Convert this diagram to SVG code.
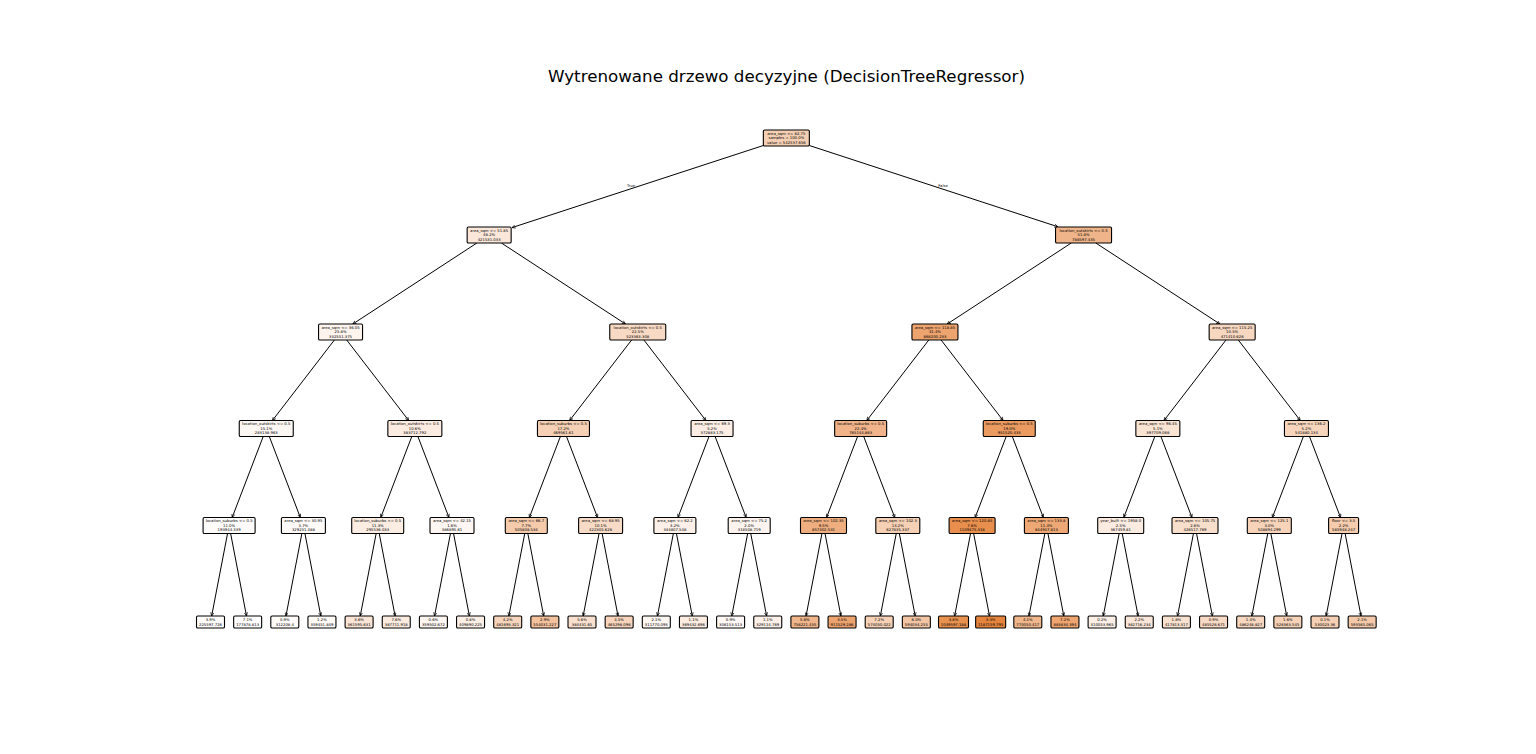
<svg xmlns="http://www.w3.org/2000/svg" width="1536" height="754" viewBox="0 0 1536 754">
<style>
text{font-family:"DejaVu Sans","Liberation Sans",sans-serif;font-size:3.8px;text-anchor:middle;fill:#000}
.title{font-size:16.7px}
.nd rect{stroke:#000;stroke-width:1.1}
#edges line{stroke:#000;stroke-width:1;marker-end:url(#ah)}
</style>
<defs>
<marker id="ah" viewBox="0 0 4 4" refX="3.8" refY="2" markerWidth="4" markerHeight="4" markerUnits="userSpaceOnUse" orient="auto">
<path d="M0.3,0.4 L3.8,2 L0.3,3.6" fill="none" stroke="#000" stroke-width="0.7"/>
</marker>
</defs>
<rect width="1536" height="754" fill="#fff"/>
<text class="title" x="786.5" y="82">Wytrenowane drzewo decyzyjne (DecisionTreeRegressor)</text>

<g id="edges">
<line x1="763.35" y1="145.5" x2="512" y2="227.6"/>
<line x1="809.35" y1="145.5" x2="1058" y2="226.8"/>
<line x1="476.89" y1="243" x2="352.81" y2="324"/>
<line x1="501.41" y1="243" x2="625.49" y2="324"/>
<line x1="1071.29" y1="243" x2="947.21" y2="324"/>
<line x1="1095.81" y1="243" x2="1219.89" y2="324"/>
<line x1="334.39" y1="340" x2="272.41" y2="420.5"/>
<line x1="346.71" y1="340" x2="408.69" y2="420.5"/>
<line x1="631.59" y1="340" x2="569.61" y2="420.5"/>
<line x1="643.91" y1="340" x2="705.89" y2="420.5"/>
<line x1="928.79" y1="340" x2="866.81" y2="420.5"/>
<line x1="941.11" y1="340" x2="1003.09" y2="420.5"/>
<line x1="1225.99" y1="340" x2="1164.01" y2="420.5"/>
<line x1="1238.31" y1="340" x2="1300.29" y2="420.5"/>
<line x1="263.19" y1="436.5" x2="232.16" y2="517.5"/>
<line x1="269.31" y1="436.5" x2="300.34" y2="517.5"/>
<line x1="411.79" y1="436.5" x2="380.76" y2="517.5"/>
<line x1="417.91" y1="436.5" x2="448.94" y2="517.5"/>
<line x1="560.39" y1="436.5" x2="529.36" y2="517.5"/>
<line x1="566.51" y1="436.5" x2="597.54" y2="517.5"/>
<line x1="708.99" y1="436.5" x2="677.96" y2="517.5"/>
<line x1="715.11" y1="436.5" x2="746.14" y2="517.5"/>
<line x1="857.59" y1="436.5" x2="826.56" y2="517.5"/>
<line x1="863.71" y1="436.5" x2="894.74" y2="517.5"/>
<line x1="1006.19" y1="436.5" x2="975.16" y2="517.5"/>
<line x1="1012.31" y1="436.5" x2="1043.34" y2="517.5"/>
<line x1="1154.79" y1="436.5" x2="1123.76" y2="517.5"/>
<line x1="1160.91" y1="436.5" x2="1191.94" y2="517.5"/>
<line x1="1303.39" y1="436.5" x2="1272.36" y2="517.5"/>
<line x1="1309.51" y1="436.5" x2="1340.54" y2="517.5"/>
<line x1="227.56" y1="533.5" x2="211.65" y2="616"/>
<line x1="230.64" y1="533.5" x2="246.5" y2="616"/>
<line x1="301.86" y1="533.5" x2="285.95" y2="616"/>
<line x1="304.94" y1="533.5" x2="320.8" y2="616"/>
<line x1="376.16" y1="533.5" x2="360.25" y2="616"/>
<line x1="379.24" y1="533.5" x2="395.1" y2="616"/>
<line x1="450.46" y1="533.5" x2="434.55" y2="616"/>
<line x1="453.54" y1="533.5" x2="469.4" y2="616"/>
<line x1="524.76" y1="533.5" x2="508.85" y2="616"/>
<line x1="527.84" y1="533.5" x2="543.7" y2="616"/>
<line x1="599.06" y1="533.5" x2="583.15" y2="616"/>
<line x1="602.14" y1="533.5" x2="618" y2="616"/>
<line x1="673.36" y1="533.5" x2="657.45" y2="616"/>
<line x1="676.44" y1="533.5" x2="692.3" y2="616"/>
<line x1="747.66" y1="533.5" x2="731.75" y2="616"/>
<line x1="750.74" y1="533.5" x2="766.6" y2="616"/>
<line x1="821.96" y1="533.5" x2="806.05" y2="616"/>
<line x1="825.04" y1="533.5" x2="840.9" y2="616"/>
<line x1="896.26" y1="533.5" x2="880.35" y2="616"/>
<line x1="899.34" y1="533.5" x2="915.2" y2="616"/>
<line x1="970.56" y1="533.5" x2="954.65" y2="616"/>
<line x1="973.64" y1="533.5" x2="989.5" y2="616"/>
<line x1="1044.86" y1="533.5" x2="1028.95" y2="616"/>
<line x1="1047.94" y1="533.5" x2="1063.8" y2="616"/>
<line x1="1119.16" y1="533.5" x2="1103.25" y2="616"/>
<line x1="1122.24" y1="533.5" x2="1138.1" y2="616"/>
<line x1="1193.46" y1="533.5" x2="1177.55" y2="616"/>
<line x1="1196.54" y1="533.5" x2="1212.4" y2="616"/>
<line x1="1267.76" y1="533.5" x2="1251.85" y2="616"/>
<line x1="1270.84" y1="533.5" x2="1286.7" y2="616"/>
<line x1="1342.06" y1="533.5" x2="1326.15" y2="616"/>
<line x1="1345.14" y1="533.5" x2="1361" y2="616"/>
<text x="631" y="187">True</text>
<text x="943" y="187">False</text>
</g>

<g id="n0" class="nd"><rect x="763.35" y="130" width="46" height="16" rx="1.3" fill="#f5cfb3"/><text x="786.35" y="134.95">area_sqm &lt;= 82.75</text><text x="786.35" y="139.35">samples = 100.0%</text><text x="786.35" y="143.75">value = 542537.656</text></g>

<g id="n1" class="nd"><rect x="467.15" y="227" width="44" height="16" rx="1.3" fill="#fbe7da"/><text x="489.15" y="231.95">area_sqm &lt;= 51.85</text><text x="489.15" y="236.35">48.2%</text><text x="489.15" y="240.75">421531.033</text></g>
<g id="n2" class="nd"><rect x="1055.55" y="227" width="56" height="16" rx="1.3" fill="#f0b48a"/><text x="1083.55" y="231.95">location_outskirts &lt;= 0.5</text><text x="1083.55" y="236.35">51.8%</text><text x="1083.55" y="240.75">788597.435</text></g>

<g id="n3" class="nd"><rect x="318.55" y="324" width="44" height="16" rx="1.3" fill="#fdf4ee"/><text x="340.55" y="328.95">area_sqm &lt;= 36.05</text><text x="340.55" y="333.35">25.8%</text><text x="340.55" y="337.75">332551.375</text></g>
<g id="n4" class="nd"><rect x="609.75" y="324" width="56" height="16" rx="1.3" fill="#f7d9c4"/><text x="637.75" y="328.95">location_outskirts &lt;= 0.5</text><text x="637.75" y="333.35">22.5%</text><text x="637.75" y="337.75">523363.308</text></g>
<g id="n5" class="nd"><rect x="911.95" y="324" width="46" height="16" rx="1.3" fill="#eda46f"/><text x="934.95" y="328.95">area_sqm &lt;= 118.85</text><text x="934.95" y="333.35">41.4%</text><text x="934.95" y="337.75">868200.233</text></g>
<g id="n6" class="nd"><rect x="1209.15" y="324" width="46" height="16" rx="1.3" fill="#f7d7c0"/><text x="1232.15" y="328.95">area_sqm &lt;= 115.25</text><text x="1232.15" y="333.35">10.5%</text><text x="1232.15" y="337.75">471410.626</text></g>

<g id="n7" class="nd"><rect x="239.25" y="420.5" width="54" height="16" rx="1.3" fill="#fdf7f3"/><text x="266.25" y="425.45">location_outskirts &lt;= 0.5</text><text x="266.25" y="429.85">15.1%</text><text x="266.25" y="434.25">283138.963</text></g>
<g id="n8" class="nd"><rect x="387.85" y="420.5" width="54" height="16" rx="1.3" fill="#fcebe0"/><text x="414.85" y="425.45">location_outskirts &lt;= 0.5</text><text x="414.85" y="429.85">10.6%</text><text x="414.85" y="434.25">383712.792</text></g>
<g id="n9" class="nd"><rect x="537.45" y="420.5" width="52" height="16" rx="1.3" fill="#f6d0b4"/><text x="563.45" y="425.45">location_suburbs &lt;= 0.5</text><text x="563.45" y="429.85">17.2%</text><text x="563.45" y="434.25">469561.61</text></g>
<g id="n10" class="nd"><rect x="691.05" y="420.5" width="42" height="16" rx="1.3" fill="#fbede3"/><text x="712.05" y="425.45">area_sqm &lt;= 69.3</text><text x="712.05" y="429.85">5.2%</text><text x="712.05" y="434.25">372883.175</text></g>
<g id="n11" class="nd"><rect x="834.65" y="420.5" width="52" height="16" rx="1.3" fill="#f0b38a"/><text x="860.65" y="425.45">location_suburbs &lt;= 0.5</text><text x="860.65" y="429.85">22.4%</text><text x="860.65" y="434.25">785144.863</text></g>
<g id="n12" class="nd"><rect x="983.25" y="420.5" width="52" height="16" rx="1.3" fill="#eb9b60"/><text x="1009.25" y="425.45">location_suburbs &lt;= 0.5</text><text x="1009.25" y="429.85">19.0%</text><text x="1009.25" y="434.25">951520.433</text></g>
<g id="n13" class="nd"><rect x="1135.85" y="420.5" width="44" height="16" rx="1.3" fill="#f9e3d3"/><text x="1157.85" y="425.45">area_sqm &lt;= 96.45</text><text x="1157.85" y="429.85">5.1%</text><text x="1157.85" y="434.25">397709.068</text></g>
<g id="n14" class="nd"><rect x="1284.45" y="420.5" width="44" height="16" rx="1.3" fill="#f7d5bd"/><text x="1306.45" y="425.45">area_sqm &lt;= 136.2</text><text x="1306.45" y="429.85">5.2%</text><text x="1306.45" y="434.25">541880.134</text></g>

<g id="n15" class="nd"><rect x="203.1" y="517.5" width="52" height="16" rx="1.3" fill="#fefcfb"/><text x="229.1" y="522.45">location_suburbs &lt;= 0.5</text><text x="229.1" y="526.85">11.0%</text><text x="229.1" y="531.25">193944.339</text></g>
<g id="n16" class="nd"><rect x="281.4" y="517.5" width="44" height="16" rx="1.3" fill="#fefaf8"/><text x="303.4" y="522.45">area_sqm &lt;= 30.95</text><text x="303.4" y="526.85">3.7%</text><text x="303.4" y="531.25">329231.488</text></g>
<g id="n17" class="nd"><rect x="351.7" y="517.5" width="52" height="16" rx="1.3" fill="#fcede3"/><text x="377.7" y="522.45">location_suburbs &lt;= 0.5</text><text x="377.7" y="526.85">11.3%</text><text x="377.7" y="531.25">295536.033</text></g>
<g id="n18" class="nd"><rect x="430" y="517.5" width="44" height="16" rx="1.3" fill="#fdf6f2"/><text x="452" y="522.45">area_sqm &lt;= 42.15</text><text x="452" y="526.85">1.6%</text><text x="452" y="531.25">386895.61</text></g>
<g id="n19" class="nd"><rect x="505.3" y="517.5" width="42" height="16" rx="1.3" fill="#f5cbac"/><text x="526.3" y="522.45">area_sqm &lt;= 66.7</text><text x="526.3" y="526.85">7.7%</text><text x="526.3" y="531.25">505808.534</text></g>
<g id="n20" class="nd"><rect x="578.6" y="517.5" width="44" height="16" rx="1.3" fill="#f8dbc6"/><text x="600.6" y="522.45">area_sqm &lt;= 68.95</text><text x="600.6" y="526.85">10.1%</text><text x="600.6" y="531.25">422305.626</text></g>
<g id="n21" class="nd"><rect x="653.9" y="517.5" width="42" height="16" rx="1.3" fill="#fcf0e8"/><text x="674.9" y="522.45">area_sqm &lt;= 62.2</text><text x="674.9" y="526.85">3.2%</text><text x="674.9" y="531.25">344807.548</text></g>
<g id="n22" class="nd"><rect x="728.2" y="517.5" width="42" height="16" rx="1.3" fill="#fdf4ef"/><text x="749.2" y="522.45">area_sqm &lt;= 75.2</text><text x="749.2" y="526.85">2.0%</text><text x="749.2" y="531.25">318508.719</text></g>
<g id="n23" class="nd"><rect x="800.5" y="517.5" width="46" height="16" rx="1.3" fill="#efae7f"/><text x="823.5" y="522.45">area_sqm &lt;= 102.35</text><text x="823.5" y="526.85">9.5%</text><text x="823.5" y="531.25">857402.531</text></g>
<g id="n24" class="nd"><rect x="875.8" y="517.5" width="44" height="16" rx="1.3" fill="#f6d0b4"/><text x="897.8" y="522.45">area_sqm &lt;= 102.3</text><text x="897.8" y="526.85">13.2%</text><text x="897.8" y="531.25">627835.337</text></g>
<g id="n25" class="nd"><rect x="949.1" y="517.5" width="46" height="16" rx="1.3" fill="#e98f4e"/><text x="972.1" y="522.45">area_sqm &lt;= 120.85</text><text x="972.1" y="526.85">7.6%</text><text x="972.1" y="531.25">1109475.318</text></g>
<g id="n26" class="nd"><rect x="1024.4" y="517.5" width="44" height="16" rx="1.3" fill="#eea875"/><text x="1046.4" y="522.45">area_sqm &lt;= 133.8</text><text x="1046.4" y="526.85">11.4%</text><text x="1046.4" y="531.25">844947.813</text></g>
<g id="n27" class="nd"><rect x="1097.7" y="517.5" width="46" height="16" rx="1.3" fill="#fbebe0"/><text x="1120.7" y="522.45">year_built &lt;= 1958.0</text><text x="1120.7" y="526.85">2.5%</text><text x="1120.7" y="531.25">367459.81</text></g>
<g id="n28" class="nd"><rect x="1172" y="517.5" width="46" height="16" rx="1.3" fill="#f8dfcc"/><text x="1195" y="522.45">area_sqm &lt;= 105.75</text><text x="1195" y="526.85">2.6%</text><text x="1195" y="531.25">426517.769</text></g>
<g id="n29" class="nd"><rect x="1247.3" y="517.5" width="44" height="16" rx="1.3" fill="#f7d3ba"/><text x="1269.3" y="522.45">area_sqm &lt;= 125.1</text><text x="1269.3" y="526.85">3.0%</text><text x="1269.3" y="531.25">508894.299</text></g>
<g id="n30" class="nd"><rect x="1328.6" y="517.5" width="30" height="16" rx="1.3" fill="#f5ccae"/><text x="1343.6" y="522.45">floor &lt;= 3.5</text><text x="1343.6" y="526.85">2.2%</text><text x="1343.6" y="531.25">585948.247</text></g>

<g id="n31" class="nd"><rect x="196.5" y="616" width="28" height="12" rx="1.3" fill="#fffdfc"/><text x="210.5" y="621.15">3.9%</text><text x="210.5" y="625.55">225597.726</text></g>
<g id="n32" class="nd"><rect x="233.65" y="616" width="28" height="12" rx="1.3" fill="#fffefe"/><text x="247.65" y="621.15">7.1%</text><text x="247.65" y="625.55">177878.813</text></g>
<g id="n33" class="nd"><rect x="270.8" y="616" width="28" height="12" rx="1.3" fill="#fffcfa"/><text x="284.8" y="621.15">0.9%</text><text x="284.8" y="625.55">312208.4</text></g>
<g id="n34" class="nd"><rect x="307.95" y="616" width="28" height="12" rx="1.3" fill="#fefaf6"/><text x="321.95" y="621.15">1.2%</text><text x="321.95" y="625.55">359451.849</text></g>
<g id="n35" class="nd"><rect x="345.1" y="616" width="28" height="12" rx="1.3" fill="#fae4d5"/><text x="359.1" y="621.15">3.6%</text><text x="359.1" y="625.55">361595.631</text></g>
<g id="n36" class="nd"><rect x="382.25" y="616" width="28" height="12" rx="1.3" fill="#fbeade"/><text x="396.25" y="621.15">7.6%</text><text x="396.25" y="625.55">387711.918</text></g>
<g id="n37" class="nd"><rect x="419.4" y="616" width="28" height="12" rx="1.3" fill="#fdf5ef"/><text x="433.4" y="621.15">0.6%</text><text x="433.4" y="625.55">359502.672</text></g>
<g id="n38" class="nd"><rect x="456.55" y="616" width="28" height="12" rx="1.3" fill="#fcefe6"/><text x="470.55" y="621.15">0.8%</text><text x="470.55" y="625.55">409890.225</text></g>
<g id="n39" class="nd"><rect x="493.7" y="616" width="28" height="12" rx="1.3" fill="#f7d5bd"/><text x="507.7" y="621.15">4.2%</text><text x="507.7" y="625.55">481693.321</text></g>
<g id="n40" class="nd"><rect x="530.85" y="616" width="28" height="12" rx="1.3" fill="#f3c19c"/><text x="544.85" y="621.15">2.9%</text><text x="544.85" y="625.55">554031.227</text></g>
<g id="n41" class="nd"><rect x="568" y="616" width="28" height="12" rx="1.3" fill="#f9e0ce"/><text x="582" y="621.15">5.6%</text><text x="582" y="625.55">384431.65</text></g>
<g id="n42" class="nd"><rect x="605.15" y="616" width="28" height="12" rx="1.3" fill="#f7d4bb"/><text x="619.15" y="621.15">4.5%</text><text x="619.15" y="625.55">465298.096</text></g>
<g id="n43" class="nd"><rect x="642.3" y="616" width="28" height="12" rx="1.3" fill="#fdf6f1"/><text x="656.3" y="621.15">2.1%</text><text x="656.3" y="625.55">311770.093</text></g>
<g id="n44" class="nd"><rect x="679.45" y="616" width="28" height="12" rx="1.3" fill="#fbebe0"/><text x="693.45" y="621.15">1.1%</text><text x="693.45" y="625.55">369432.696</text></g>
<g id="n45" class="nd"><rect x="716.6" y="616" width="28" height="12" rx="1.3" fill="#fef9f6"/><text x="730.6" y="621.15">0.9%</text><text x="730.6" y="625.55">306153.513</text></g>
<g id="n46" class="nd"><rect x="753.75" y="616" width="28" height="12" rx="1.3" fill="#fcf0e8"/><text x="767.75" y="621.15">1.1%</text><text x="767.75" y="625.55">329114.769</text></g>
<g id="n47" class="nd"><rect x="790.9" y="616" width="28" height="12" rx="1.3" fill="#f0b58b"/><text x="804.9" y="621.15">5.6%</text><text x="804.9" y="625.55">756221.435</text></g>
<g id="n48" class="nd"><rect x="828.05" y="616" width="28" height="12" rx="1.3" fill="#eda36f"/><text x="842.05" y="621.15">3.5%</text><text x="842.05" y="625.55">911529.286</text></g>
<g id="n49" class="nd"><rect x="865.2" y="616" width="28" height="12" rx="1.3" fill="#f6d1b6"/><text x="879.2" y="621.15">7.2%</text><text x="879.2" y="625.55">574050.022</text></g>
<g id="n50" class="nd"><rect x="902.35" y="616" width="28" height="12" rx="1.3" fill="#f3c5a4"/><text x="916.35" y="621.15">6.0%</text><text x="916.35" y="625.55">594034.255</text></g>
<g id="n51" class="nd"><rect x="938.5" y="616" width="30" height="12" rx="1.3" fill="#e9914f"/><text x="953.5" y="621.15">3.8%</text><text x="953.5" y="625.55">1049597.188</text></g>
<g id="n52" class="nd"><rect x="975.65" y="616" width="30" height="12" rx="1.3" fill="#e6843e"/><text x="990.65" y="621.15">3.3%</text><text x="990.65" y="625.55">1187159.795</text></g>
<g id="n53" class="nd"><rect x="1013.8" y="616" width="28" height="12" rx="1.3" fill="#f0b68c"/><text x="1027.8" y="621.15">4.1%</text><text x="1027.8" y="625.55">770050.417</text></g>
<g id="n54" class="nd"><rect x="1050.95" y="616" width="28" height="12" rx="1.3" fill="#eea56f"/><text x="1064.95" y="621.15">7.2%</text><text x="1064.95" y="625.55">883834.394</text></g>
<g id="n55" class="nd"><rect x="1088.1" y="616" width="28" height="12" rx="1.3" fill="#fcefe6"/><text x="1102.1" y="621.15">0.2%</text><text x="1102.1" y="625.55">310053.965</text></g>
<g id="n56" class="nd"><rect x="1125.25" y="616" width="28" height="12" rx="1.3" fill="#fae6d8"/><text x="1139.25" y="621.15">2.2%</text><text x="1139.25" y="625.55">362716.234</text></g>
<g id="n57" class="nd"><rect x="1162.4" y="616" width="28" height="12" rx="1.3" fill="#f9e1cf"/><text x="1176.4" y="621.15">1.8%</text><text x="1176.4" y="625.55">417813.317</text></g>
<g id="n58" class="nd"><rect x="1199.55" y="616" width="28" height="12" rx="1.3" fill="#f8d9c4"/><text x="1213.55" y="621.15">0.9%</text><text x="1213.55" y="625.55">485526.671</text></g>
<g id="n59" class="nd"><rect x="1236.7" y="616" width="28" height="12" rx="1.3" fill="#f7d7c0"/><text x="1250.7" y="621.15">1.4%</text><text x="1250.7" y="625.55">486248.827</text></g>
<g id="n60" class="nd"><rect x="1273.85" y="616" width="28" height="12" rx="1.3" fill="#f6d2b8"/><text x="1287.85" y="621.15">1.6%</text><text x="1287.85" y="625.55">526363.545</text></g>
<g id="n61" class="nd"><rect x="1311" y="616" width="28" height="12" rx="1.3" fill="#f6d0b4"/><text x="1325" y="621.15">0.1%</text><text x="1325" y="625.55">530023.36</text></g>
<g id="n62" class="nd"><rect x="1348.15" y="616" width="28" height="12" rx="1.3" fill="#f4c9aa"/><text x="1362.15" y="621.15">2.1%</text><text x="1362.15" y="625.55">593565.065</text></g>
</svg>
